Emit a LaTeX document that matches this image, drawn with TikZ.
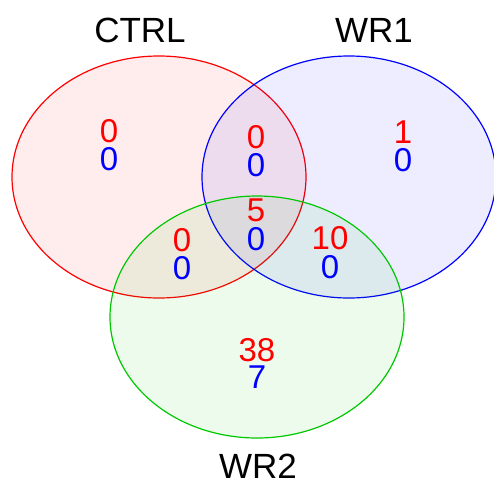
\documentclass[tikz,border=0pt]{standalone}
\usepackage{fontspec}
\setmainfont{Liberation Sans}
\usetikzlibrary{shapes.geometric}
\begin{document}
\begin{tikzpicture}[x=1pt,y=-1pt,
  setellipse/.style={ellipse, draw=#1, fill=#1, fill opacity=0.07, draw opacity=1, line width=1.2pt, inner sep=0, minimum width=294pt, minimum height=242pt},
  num/.style={inner sep=0, font=\fontsize{33}{33}\selectfont},
  setlabel/.style={inner sep=0, font=\fontsize{35}{35}\selectfont, text=black}]
\useasboundingbox (0,0) rectangle (494,479);
\definecolor{vgreen}{RGB}{0,200,0}
\node[setellipse=red] (ctrl) at (159,177) {};
\node[setellipse=blue] (wr1) at (349,177) {};
\node[setellipse=vgreen] (wr2) at (257,317) {};
\node[setlabel] (lctrl) at (140,30) {CTRL};
\node[setlabel] (lwr1) at (374,30) {WR1};
\node[setlabel] (lwr2) at (258,466) {WR2};
% CTRL only
\node[num, text=red] (a1) at (109,131) {0};
\node[num, text=blue] (a2) at (109,159) {0};
% CTRL & WR1
\node[num, text=red] (b1) at (256,137) {0};
\node[num, text=blue] (b2) at (256,165) {0};
% WR1 only
\node[num, text=red] (c1) at (403,132) {1};
\node[num, text=blue] (c2) at (403,160) {0};
% all
\node[num, text=red] (d1) at (256,210) {5};
\node[num, text=blue] (d2) at (256,239) {0};
% CTRL & WR2
\node[num, text=red] (e1) at (182,240) {0};
\node[num, text=blue] (e2) at (182,268) {0};
% WR1 & WR2
\node[num, text=red] (f1) at (330,238) {10};
\node[num, text=blue] (f2) at (330,267) {0};
% WR2 only
\node[num, text=red] (g1) at (257,350) {38};
\node[num, text=blue] (g2) at (257,377) {7};
\end{tikzpicture}
\end{document}
